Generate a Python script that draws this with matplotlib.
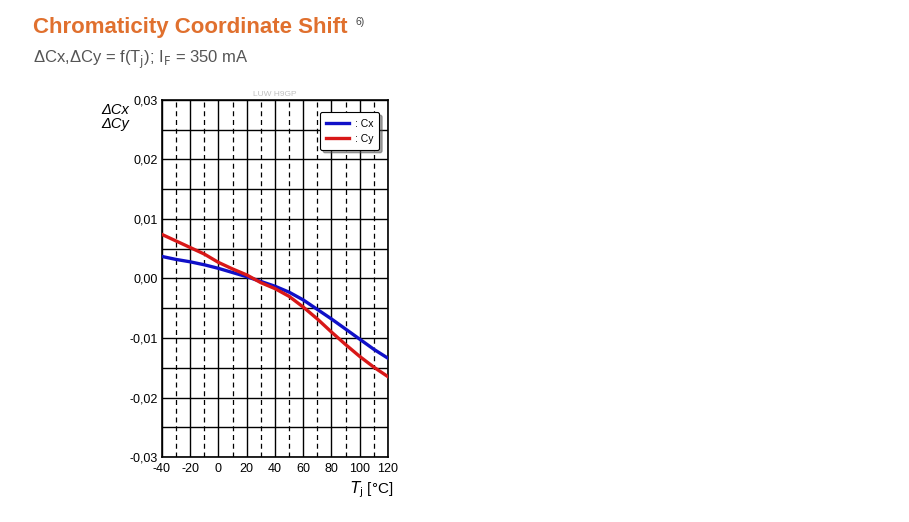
import matplotlib.pyplot as plt
import numpy as np
from matplotlib.ticker import MultipleLocator, FuncFormatter

plt.rcParams['font.family'] = ['Liberation Sans', 'DejaVu Sans']
plt.rcParams['axes.unicode_minus'] = False

# Tj in degC
tj = [-40, -30, -20, -10, 0, 10, 20, 30, 40, 50, 60, 70, 80, 90, 100, 110, 120]
# chromaticity shift
d_cx = [0.0037, 0.0032, 0.0028, 0.0023, 0.0017, 0.0010, 0.0003, -0.0005, -0.0013,
        -0.0023, -0.0036, -0.0052, -0.0068, -0.0085, -0.0102, -0.0119, -0.0134]
d_cy = [0.0074, 0.0063, 0.0052, 0.0041, 0.0027, 0.0016, 0.0006, -0.0007, -0.0017,
        -0.0030, -0.0048, -0.0068, -0.0090, -0.0111, -0.0131, -0.0149, -0.0165]

fig = plt.figure(figsize=(9.09, 5.22), dpi=100)
ax = fig.add_axes([0.1782, 0.1245, 0.2486, 0.684])

ax.plot(tj, d_cx, color='#1010c8', lw=2.4, label=': Cx', zorder=3)
ax.plot(tj, d_cy, color='#d81818', lw=2.4, label=': Cy', zorder=3)

ax.set_xlim(-40, 120)
ax.set_ylim(-0.03, 0.03)
ax.xaxis.set_major_locator(MultipleLocator(20))
ax.yaxis.set_major_locator(MultipleLocator(0.01))
ax.yaxis.set_minor_locator(MultipleLocator(0.005))
ax.yaxis.set_major_formatter(FuncFormatter(lambda v, p: ('%.2f' % v).replace('.', ',').replace('-0,00', '0,00')))

# grid: solid every 20 degC, dashed in between; solid every 0.005
ax.grid(True, which='major', color='black', lw=1.0)
ax.grid(True, which='minor', axis='y', color='black', lw=1.0)
for xv in range(-30, 120, 20):
    ax.axvline(xv, color='black', lw=0.9, ls=(0, (4, 3)), zorder=1)
ax.set_axisbelow(True)
ax.tick_params(which='both', length=0, labelsize=9, pad=3)
ax.tick_params(axis='x', pad=4)
for s in ax.spines.values():
    s.set_linewidth(1.2)

leg = ax.legend(loc='upper right', bbox_to_anchor=(0.985, 0.98), fontsize=7.5,
                frameon=True, fancybox=True, shadow=True, handlelength=2.2,
                borderpad=0.6, labelspacing=0.5, handletextpad=0.5)
leg.get_frame().set_edgecolor('black')
leg.get_frame().set_linewidth(0.8)

ax.text(0.5, 1.005, 'LUW H9GP', transform=ax.transAxes, ha='center', va='bottom',
        fontsize=6, color='#c0c0c0')
fig.text(129 / 909, 1 - 117 / 522, 'ΔCx\nΔCy', ha='right', va='center', fontsize=10.5,
         style='italic', linespacing=1.05)
fig.text(350 / 909, 1 - 490 / 522, r'$T_{\mathrm{j}}$ [°C]', ha='left', va='center', fontsize=11,
         math_fontfamily='dejavusans')

fig.text(33 / 909, 1 - 28 / 522, 'Chromaticity Coordinate Shift', ha='left', va='center',
         fontsize=16, fontweight='bold', color='#e0702e')
fig.text(355 / 909, 1 - 22 / 522, '6)', ha='left', va='center', fontsize=7.5, color='#444444')
fig.text(33 / 909, 1 - 60 / 522, r'ΔCx,ΔCy = f(T$_{\mathrm{j}}$); I$_{\mathrm{F}}$ = 350 mA',
         ha='left', va='center', fontsize=12, color='#555555')

fig.savefig('out.png', dpi=100, facecolor='white')
